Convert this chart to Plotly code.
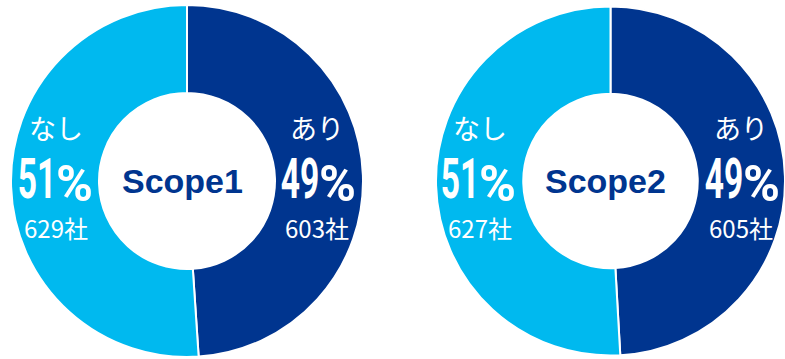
import plotly.graph_objects as go

# Survey results: companies with / without emission disclosure per scope
scopes = ["Scope1", "Scope2"]
answers = ["あり", "なし"]
scope1_counts = [603, 629]
scope2_counts = [605, 627]

colors = ["#00358F", "#00B9EF"]
W, H = 785, 359

# donut geometry in pixels: (center_x, center_y, radius)
donuts = [(187, 181, 176), (610.5, 181, 174.5)]


def px(x, y):
    return x / W, 1 - y / H


def note(x, y, text, family, size, color="white", xanchor="center", yanchor="middle"):
    ax, ay = px(x, y)
    return dict(x=ax, y=ay, text=text, showarrow=False, xref="paper", yref="paper",
                xanchor=xanchor, yanchor=yanchor, borderpad=0,
                font=dict(family=family, size=size, color=color))


def digits_width(s):
    # approximate width of the condensed percentage digits
    return sum(13 if ch == "1" else 18 for ch in s) + 2 * (len(s) - 1)


fig = go.Figure()
annotations = []
for name, counts, (cx, cy, r) in zip(scopes, [scope1_counts, scope2_counts], donuts):
    x0, x1 = (cx - r) / W, min((cx + r) / W, 1.0)
    y0, y1 = (H - cy - r) / H, min((H - cy + r) / H, 1.0)
    fig.add_trace(go.Pie(
        labels=answers, values=counts, hole=0.5, sort=False,
        direction="clockwise", rotation=0, textinfo="none",
        hoverinfo="label+value+percent",
        marker=dict(colors=colors, line=dict(color="white", width=2)),
        domain=dict(x=[x0, x1], y=[y0, y1]), showlegend=False,
    ))
    total = sum(counts)
    # centre title
    annotations.append(note(cx - 5, cy, f"<b>{name}</b>", "Liberation Sans", 34, "#00358F"))
    # slice labels: あり on the right, なし on the left
    for label, value, dx in zip(answers, counts, [130, -131]):
        pct = str(round(value / total * 100))
        lx = cx + dx
        wd = digits_width(pct)
        start = lx - (wd + 2 + 30) / 2
        annotations.append(note(lx, 128, label, "Noto Sans CJK JP", 27))
        annotations.append(note(start + wd, 179, f"<b>{pct}</b>", "Roboto", 56, xanchor="right"))
        annotations.append(note(start + wd - 2, 184, "<b>%</b>", "Roboto", 50, xanchor="left"))
        annotations.append(note(lx, 228, f"{value}社", "Noto Sans CJK JP", 24))

fig.update_layout(width=W, height=H, margin=dict(l=0, r=0, t=0, b=0),
                  paper_bgcolor="white", plot_bgcolor="white",
                  annotations=annotations)

# narrow the big percentage digits into a condensed look
squeeze_js = """
function squeezeDigits() {
  document.querySelectorAll('.annotation-text').forEach(function (t) {
    if (/^\\d+$/.test(t.textContent)) {
      t.style.transformBox = 'fill-box';
      t.style.transformOrigin = '100% 50%';
      t.style.transform = 'scaleX(0.6)';
    }
  });
}
squeezeDigits();
var gd = document.getElementById('{plot_id}');
if (gd && gd.on) { gd.on('plotly_afterplot', squeezeDigits); }
"""

fig.write_html("out.html", post_script=squeeze_js)
